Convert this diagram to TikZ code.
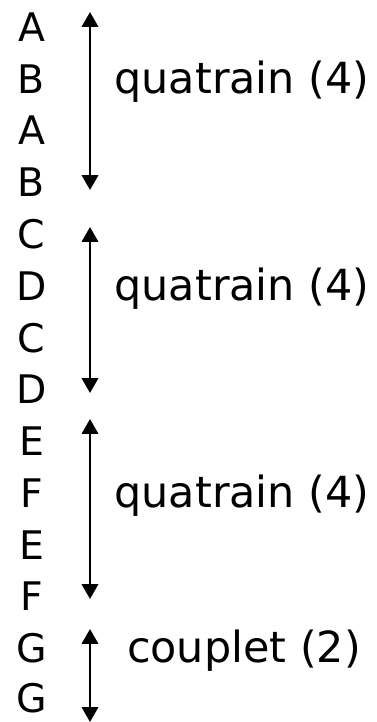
\documentclass[tikz,border=0pt]{standalone}
\usepackage{fontspec}
\setmainfont{DejaVu Sans}
\usetikzlibrary{arrows.meta}

\begin{document}
\begin{tikzpicture}[x=0.025cm, y=-0.025cm,
    every node/.style={inner sep=0pt, font=\fontsize{28}{34}\selectfont},
    rhyme/.style={anchor=base},
    stanza/.style={anchor=base, font=\fontsize{30.5}{36}\selectfont},
    span/.style={{Triangle[length=10.5pt, width=11.5pt]}-{Triangle[length=10.5pt, width=11.5pt]}, line width=1.8pt}]
  % Fix the page size
  \useasboundingbox (0,0) rectangle (376,722);

  % Rhyme scheme, one letter per line
  \node[rhyme] (A1) at (31.5,41.5) {A};
  \node[rhyme] (B1) at (31.5,93.3) {B};
  \node[rhyme] (A2) at (31.5,145) {A};
  \node[rhyme] (B2) at (31.5,196.8) {B};
  \node[rhyme] (C1) at (31.5,248.5) {C};
  \node[rhyme] (D1) at (31.5,300.3) {D};
  \node[rhyme] (C2) at (31.5,352) {C};
  \node[rhyme] (D2) at (31.5,403.8) {D};
  \node[rhyme] (E1) at (31.5,455.5) {E};
  \node[rhyme] (F1) at (31.5,507.3) {F};
  \node[rhyme] (E2) at (31.5,559) {E};
  \node[rhyme] (F2) at (31.5,610.8) {F};
  \node[rhyme] (G1) at (31.5,662.5) {G};
  \node[rhyme] (G2) at (31.5,712) {G};

  % Ends of the brackets
  \coordinate (q1top) at (90,12);
  \coordinate (q1bot) at (90,190);
  \coordinate (q2top) at (90,227);
  \coordinate (q2bot) at (90,393);
  \coordinate (q3top) at (90,419);
  \coordinate (q3bot) at (90,599);
  \coordinate (cptop) at (90,629);
  \coordinate (cpbot) at (90,722);

  \draw[span] (q1top) -- (q1bot);
  \draw[span] (q2top) -- (q2bot);
  \draw[span] (q3top) -- (q3bot);
  \draw[span] (cptop) -- (cpbot);

  % Stanza names
  \node[stanza] (quatrain1) at (242,93.3) {quatrain (4)};
  \node[stanza] (quatrain2) at (242,300.3) {quatrain (4)};
  \node[stanza] (quatrain3) at (242,507.3) {quatrain (4)};
  \node[stanza] (couplet) at (244,662.5) {couplet (2)};

\end{tikzpicture}
\end{document}
